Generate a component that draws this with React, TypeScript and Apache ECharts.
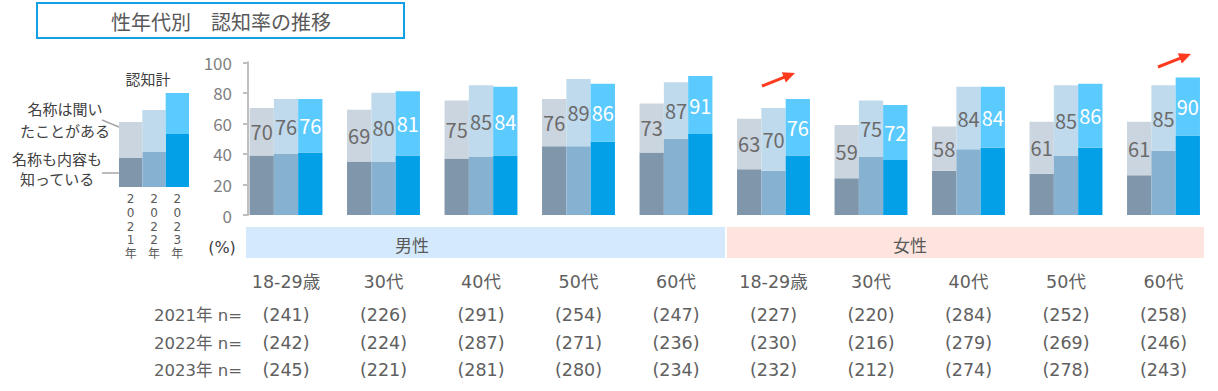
import React, { useEffect, useRef } from 'react';
import * as echarts from 'echarts';

// ---- data ----
const categories = ['18-29歳', '30代', '40代', '50代', '60代', '18-29歳', '30代', '40代', '50代', '60代'];
const yearNames = ['2021年', '2022年', '2023年'];

// 認知計 (total awareness, %)
const total2021 = [70, 69, 75, 76, 73, 63, 59, 58, 61, 61];
const total2022 = [76, 80, 85, 89, 87, 70, 75, 84, 85, 85];
const total2023 = [76, 81, 84, 86, 91, 76, 72, 84, 86, 90];

// 名称も内容も知っている (%)
const know2021 = [39, 35, 37, 45, 41, 30, 24, 29, 27, 26];
const know2022 = [40, 35, 38, 45, 50, 29, 38, 43, 39, 42];
const know2023 = [41, 39, 39, 48, 53, 39, 36, 44, 44, 52];

// sample sizes
const n2021 = [241, 226, 291, 254, 247, 227, 220, 284, 252, 258];
const n2022 = [242, 224, 287, 271, 236, 230, 216, 279, 269, 246];
const n2023 = [245, 221, 281, 280, 234, 232, 212, 274, 278, 243];

const yTicks = [0, 20, 40, 60, 80, 100];

// legend illustration (mini chart)
const legendYears = ['2\n0\n2\n1\n年', '2\n0\n2\n2\n年', '2\n0\n2\n3\n年'];
const legendKnow = [29, 35, 53];
const legendTotal = [65, 77, 94];

const genderLabels = ['男性', '女性'];

const FONT = "'Noto Sans CJK JP', 'Noto Sans', sans-serif";
const TFONT = "'DejaVu Sans', 'Noto Sans CJK JP', sans-serif";
const TEXT = '#595959';
const TTEXT = '#606060';
const lowerColors = ['#8096ab', '#86b1d0', '#03a0e7'];
const upperColors = ['#cbd5df', '#bfdaec', '#5bcafe'];

export default function App() {
  const ref = useRef<HTMLDivElement>(null);
  useEffect(() => {
    const chart = echarts.init(ref.current!, null, { renderer: 'svg' });
    const totals = [total2021, total2022, total2023];
    const knows = [know2021, know2022, know2023];

    const series: any[] = [];
    for (let i = 0; i < 3; i++) {
      series.push({
        type: 'bar',
        name: yearNames[i] + '内容',
        stack: 's' + i,
        xAxisIndex: 0,
        yAxisIndex: 0,
        barWidth: 24.3,
        barGap: '0%',
        data: knows[i],
        itemStyle: { color: lowerColors[i] },
        silent: true,
      });
      series.push({
        type: 'bar',
        name: yearNames[i] + '計',
        stack: 's' + i,
        xAxisIndex: 0,
        yAxisIndex: 0,
        barWidth: 24.3,
        barGap: '0%',
        data: totals[i].map((t, j) => t - knows[i][j]),
        itemStyle: { color: upperColors[i] },
        silent: true,
        label: {
          show: true,
          position: 'inside',
          formatter: (p: any) => String(totals[i][p.dataIndex]),
          color: i === 2 ? '#ffffff' : '#6b6b6b',
          fontSize: 20,
          fontFamily: FONT,
        },
      });
    }
    // mini legend chart
    series.push({
      type: 'bar',
      stack: 'legend',
      xAxisIndex: 4,
      yAxisIndex: 1,
      barCategoryGap: '0%',
      data: legendKnow.map((v, i) => ({ value: v, itemStyle: { color: lowerColors[i] } })),
      silent: true,
    });
    series.push({
      type: 'bar',
      stack: 'legend',
      xAxisIndex: 4,
      yAxisIndex: 1,
      barCategoryGap: '0%',
      data: legendTotal.map((v, i) => ({ value: v - legendKnow[i], itemStyle: { color: upperColors[i] } })),
      silent: true,
    });

    const nAxis = (arr: number[], margin: number) => ({
      type: 'category',
      gridIndex: 0,
      position: 'bottom',
      offset: 0,
      data: arr.map((v) => `(${v})`),
      axisLine: { show: false },
      axisTick: { show: false },
      axisLabel: { interval: 0, fontSize: 17.5, color: TTEXT, fontFamily: TFONT, margin, lineHeight: 18 },
    });

    const arrow = (x1: number, y1: number, x2: number, y2: number) => {
      const dx = x2 - x1, dy = y2 - y1;
      const len = Math.sqrt(dx * dx + dy * dy);
      const ux = dx / len, uy = dy / len;
      const px = -uy, py = ux;
      const hl = 12, hw = 5.5;
      const bx = x2 - ux * hl, by = y2 - uy * hl;
      return [
        { type: 'line', shape: { x1, y1, x2: bx + ux * 2, y2: by + uy * 2 }, style: { stroke: '#ff3b1f', lineWidth: 3 } },
        { type: 'polygon', shape: { points: [[x2, y2], [bx + px * hw, by + py * hw], [bx - px * hw, by - py * hw]] }, style: { fill: '#ff3b1f' } },
      ];
    };

    const option: any = {
      animation: false,
      backgroundColor: '#ffffff',
      textStyle: { fontFamily: FONT },
      grid: [
        { left: 237.25, right: 5.75, top: 62.3, bottom: 176 },
        { left: 119, width: 70, top: 87, height: 100 },
      ],
      xAxis: [
        {
          type: 'category',
          gridIndex: 0,
          position: 'bottom',
          offset: 0,
          data: categories,
          axisLine: { show: false },
          axisTick: { show: false },
          axisLabel: { interval: 0, fontSize: 17.5, color: TTEXT, fontFamily: TFONT, margin: 58, lineHeight: 18 },
        },
        nAxis(n2021, 91),
        nAxis(n2022, 119),
        nAxis(n2023, 146),
        {
          type: 'category',
          gridIndex: 1,
          data: legendYears,
          axisLine: { show: false },
          axisTick: { show: false },
          axisLabel: { interval: 0, fontSize: 12, color: TEXT, fontFamily: TFONT, margin: 5, lineHeight: 13.8 },
        },
      ],
      yAxis: [
        {
          type: 'value',
          gridIndex: 0,
          min: yTicks[0],
          max: yTicks[yTicks.length - 1],
          interval: 20,
          offset: -10.75,
          axisLine: { show: true, lineStyle: { color: '#bfbfbf', width: 2 } },
          axisTick: { show: true, length: 5, lineStyle: { color: '#bfbfbf', width: 2 } },
          splitLine: { show: false },
          axisLabel: { fontSize: 17, color: '#7f7f7f', fontFamily: FONT, margin: 16 },
        },
        { type: 'value', gridIndex: 1, min: 0, max: 100, show: false },
      ],
      series,
      graphic: [
        { type: 'rect', shape: { x: 37, y: 3, width: 367, height: 35 }, style: { fill: '#ffffff', stroke: '#12a0e4', lineWidth: 2 } },
        { type: 'text', x: 221, y: 21, style: { text: '性年代別　認知率の推移', fontSize: 20, fontFamily: FONT, fill: TEXT, align: 'center', verticalAlign: 'middle' } },
        // gender bands
        { type: 'rect', shape: { x: 246, y: 227, width: 479, height: 31 }, style: { fill: '#d5e9fc' } },
        { type: 'rect', shape: { x: 727, y: 227, width: 477, height: 31 }, style: { fill: '#fde4df' } },
        { type: 'text', x: 412, y: 244, style: { text: genderLabels[0], fontSize: 17, fontFamily: FONT, fill: TEXT, align: 'center', verticalAlign: 'middle' } },
        { type: 'text', x: 910, y: 244, style: { text: genderLabels[1], fontSize: 17, fontFamily: FONT, fill: TEXT, align: 'center', verticalAlign: 'middle' } },
        { type: 'text', x: 222, y: 247, style: { text: '(%)', fontSize: 16, fontFamily: TFONT, fill: '#404040', align: 'center', verticalAlign: 'middle' } },
        // n row labels
        ...yearNames.map((y, i) => ({
          type: 'text', x: 242, y: [315, 343, 370][i],
          style: { text: `${y} n=`, fontSize: 16.5, fontFamily: TFONT, fill: TTEXT, align: 'right', verticalAlign: 'middle' },
        })),
        // mini legend texts
        { type: 'text', x: 148, y: 78, style: { text: '認知計', fontSize: 15, fontFamily: FONT, fill: '#404040', align: 'center', verticalAlign: 'middle' } },
        { type: 'text', x: 65, y: 119, style: { text: '名称は聞い\nたことがある', fontSize: 15, lineHeight: 22, fontFamily: FONT, fill: '#404040', align: 'center', verticalAlign: 'middle' } },
        { type: 'text', x: 57, y: 168, style: { text: '名称も内容も\n知っている', fontSize: 15, lineHeight: 20, fontFamily: FONT, fill: '#404040', align: 'center', verticalAlign: 'middle' } },
        { type: 'line', shape: { x1: 102, y1: 120, x2: 119, y2: 127 }, style: { stroke: '#a6a6a6', lineWidth: 1.5 } },
        { type: 'line', shape: { x1: 102, y1: 173, x2: 127, y2: 173 }, style: { stroke: '#a6a6a6', lineWidth: 1.5 } },
        // arrows
        ...arrow(762, 86, 795, 73),
        ...arrow(1158, 67, 1191, 54),
      ],
    };
    chart.setOption(option);
    return () => chart.dispose();
  }, []);
  return (
    <div
      ref={ref}
      style={{ position: 'fixed', left: 0, top: 0, width: 1218, height: 391, background: '#ffffff' }}
    />
  );
}
